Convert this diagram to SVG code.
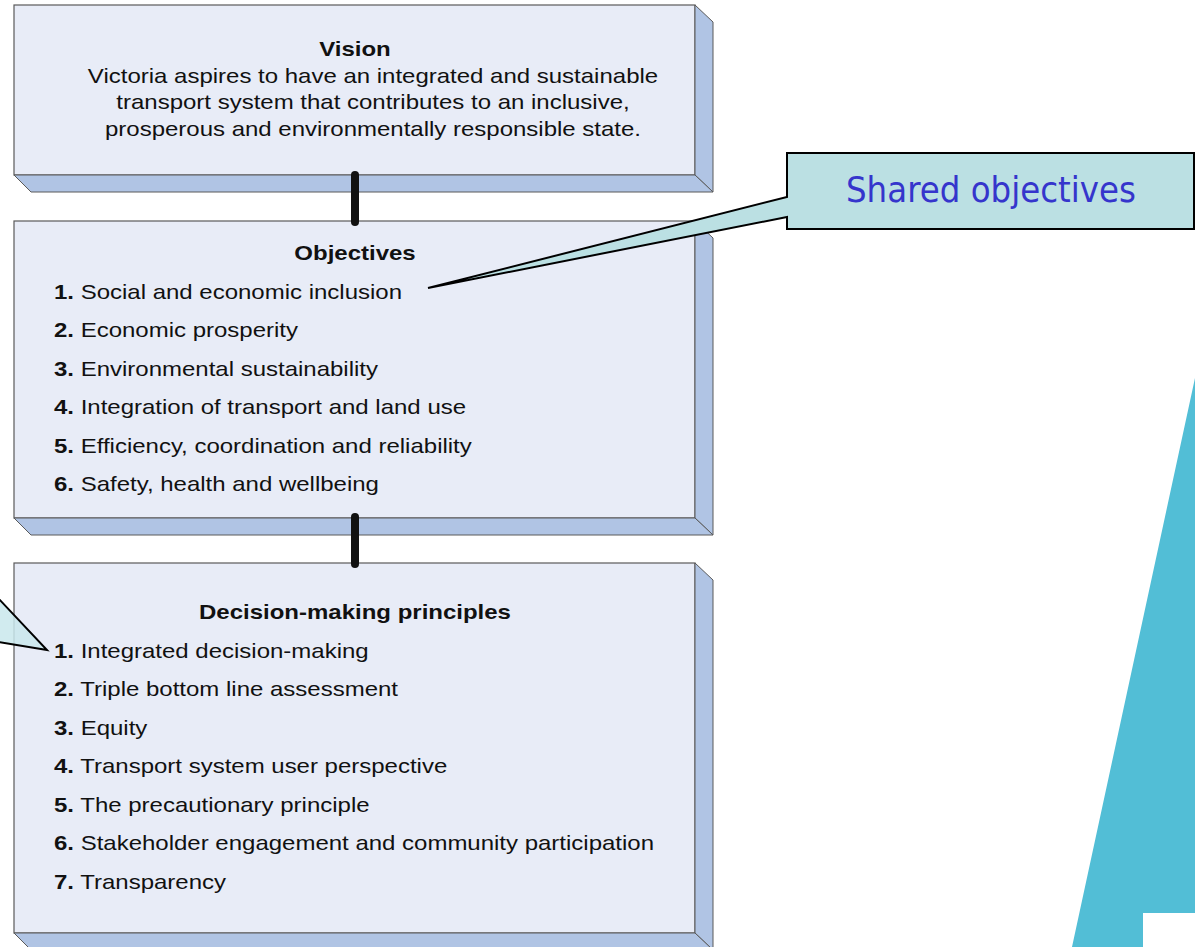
<svg xmlns="http://www.w3.org/2000/svg" width="1195" height="947" viewBox="0 0 1195 947">
<style>
.face{fill:#E8ECF7;stroke:#5A5A5A;stroke-width:1.2}
.bevel{fill:#B0C4E4;stroke:#5A5A5A;stroke-width:1}
.t{font-family:"Liberation Sans",Arial,sans-serif;font-size:20px;fill:#111}
.b{font-weight:bold}
.conn{stroke:#111;stroke-width:8;stroke-linecap:round}
.call{fill:#BBE0E3;stroke:#000;stroke-width:2;stroke-linejoin:miter}
</style>
<rect x="0" y="0" width="1195" height="947" fill="#fff"/>
<g id="deco">
<polygon points="1195,378 1072,947 1143,947 1143,913 1195,913" fill="#52BED6"/>
</g>
<g id="vision">
<rect class="face" x="14" y="5" width="681" height="170"/>
<polygon class="bevel" points="695,5 713,22 713,192 695,175"/>
<polygon class="bevel" points="14,175 695,175 713,192 31,192"/>
<g transform="translate(355 0) scale(1.2 1)"><text class="t b" x="0" y="56" text-anchor="middle">Vision</text></g>
<g transform="translate(373 0) scale(1.2 1)">
<text class="t" x="0" y="83" text-anchor="middle">Victoria aspires to have an integrated and sustainable</text>
<text class="t" x="0" y="109" text-anchor="middle">transport system that contributes to an inclusive,</text>
<text class="t" x="0" y="136" text-anchor="middle">prosperous and environmentally responsible state.</text>
</g>
</g>
<g id="objectives">
<rect class="face" x="14" y="221" width="681" height="297"/>
<polygon class="bevel" points="695,221 713,238 713,535 695,518"/>
<polygon class="bevel" points="14,518 695,518 713,535 31,535"/>
<g transform="translate(355 0) scale(1.2 1)"><text class="t b" x="0" y="260" text-anchor="middle">Objectives</text></g>
<g transform="translate(54 0) scale(1.2 1)">
<text class="t" x="0" y="299"><tspan class="b">1.</tspan> Social and economic inclusion</text>
<text class="t" x="0" y="337"><tspan class="b">2.</tspan> Economic prosperity</text>
<text class="t" x="0" y="376"><tspan class="b">3.</tspan> Environmental sustainability</text>
<text class="t" x="0" y="414"><tspan class="b">4.</tspan> Integration of transport and land use</text>
<text class="t" x="0" y="453"><tspan class="b">5.</tspan> Efficiency, coordination and reliability</text>
<text class="t" x="0" y="491"><tspan class="b">6.</tspan> Safety, health and wellbeing</text>
</g>
</g>
<g id="principles">
<rect class="face" x="14" y="563" width="681" height="370"/>
<polygon class="bevel" points="695,563 713,580 713,950 695,933"/>
<polygon class="bevel" points="14,933 695,933 713,950 31,950"/>
<g transform="translate(355 0) scale(1.2 1)"><text class="t b" x="0" y="619" text-anchor="middle">Decision-making principles</text></g>
<g transform="translate(54 0) scale(1.2 1)">
<text class="t" x="0" y="658"><tspan class="b">1.</tspan> Integrated decision-making</text>
<text class="t" x="0" y="696"><tspan class="b">2.</tspan> Triple bottom line assessment</text>
<text class="t" x="0" y="735"><tspan class="b">3.</tspan> Equity</text>
<text class="t" x="0" y="773"><tspan class="b">4.</tspan> Transport system user perspective</text>
<text class="t" x="0" y="812"><tspan class="b">5.</tspan> The precautionary principle</text>
<text class="t" x="0" y="850"><tspan class="b">6.</tspan> Stakeholder engagement and community participation</text>
<text class="t" x="0" y="889"><tspan class="b">7.</tspan> Transparency</text>
</g>
</g>
<g id="connectors">
<line class="conn" x1="355" y1="175" x2="355" y2="222"/>
<line class="conn" x1="355" y1="517" x2="355" y2="564"/>
</g>
<g id="shared-objectives">
<path class="call" d="M787,153 H1194 V229 H787 V217 L428,288 L787,197 Z"/>
<text x="991" y="202" text-anchor="middle" textLength="290" lengthAdjust="spacingAndGlyphs" style="font-family:'DejaVu Sans',Verdana,sans-serif;font-size:36px;fill:#3535CC">Shared objectives</text>
</g>
<g id="left-callout">
<path d="M-2,598 L47,650 L-2,642" fill="#C9E8EC" fill-opacity="0.85" stroke="#000" stroke-width="2"/>
</g>
</svg>
